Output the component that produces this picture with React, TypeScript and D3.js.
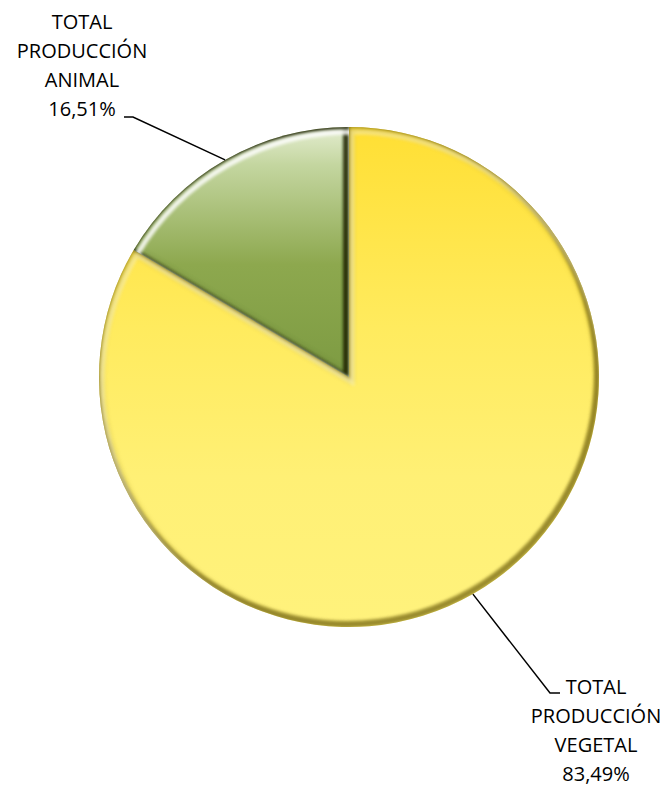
import React from "react";
import * as d3 from "d3";

const categories = ["TOTAL PRODUCCIÓN VEGETAL", "TOTAL PRODUCCIÓN ANIMAL"];
const labelLines = [
  ["TOTAL", "PRODUCCIÓN", "VEGETAL"],
  ["TOTAL", "PRODUCCIÓN", "ANIMAL"],
];
const values = [83.49, 16.51];
const percentLabels = ["83,49%", "16,51%"];

const W = 666;
const H = 788;
const cx = 349;
const cy = 377;
const R = 250;

const gradStops = [
  [
    ["0", "#FFDF34"],
    ["0.4", "#FFEB5E"],
    ["0.7", "#FFF075"],
    ["1", "#FFF27C"],
  ],
  [
    ["0", "#E4EDD0"],
    ["0.15", "#C4D6A0"],
    ["0.55", "#8DA84E"],
    ["1", "#7D9B42"],
  ],
];

// label layout
const labelLayout = [
  { tx: 596, ty: 694, ex: 550, ey: 693, endX: 560 },
  { tx: 82, ty: 29, ex: 133, ey: 117, endX: 124 },
];
const darkShift = [
  [-2, -3],
  [-3, 0],
];

export default function App() {
  const pie = d3
    .pie<number>()
    .sort(null)
    .value((d) => d);
  const arcs = pie(values);
  const arc = d3.arc<d3.PieArcDatum<number>>().innerRadius(0).outerRadius(R);
  const font = "Open Sans, sans-serif";
  const fs = 20;
  const lh = 29;

  return (
    <svg
      width={W}
      height={H}
      style={{ position: "absolute", left: 0, top: 0, background: "#fff" }}
    >
      <defs>
        {arcs.map((a, i) => (
          <React.Fragment key={i}>
            <linearGradient
              id={`g${i}`}
              gradientUnits="objectBoundingBox"
              x1="0"
              y1="0"
              x2="0"
              y2="1"
            >
              {gradStops[i].map(([o, col]) => (
                <stop key={o} offset={o} stopColor={col} />
              ))}
            </linearGradient>
            <clipPath id={`c${i}`}>
              <path d={arc(a) || ""} transform={`translate(${cx},${cy})`} />
            </clipPath>
          </React.Fragment>
        ))}
        <filter id="blur" x="-20%" y="-20%" width="140%" height="140%">
          <feGaussianBlur stdDeviation="2.5" />
        </filter>
        <filter id="blur2" x="-20%" y="-20%" width="140%" height="140%">
          <feGaussianBlur stdDeviation="1.5" />
        </filter>
      </defs>

      {arcs.map((a, i) => (
        <g key={categories[i]}>
          <path
            d={arc(a) || ""}
            transform={`translate(${cx},${cy})`}
            fill={`url(#g${i})`}
          />
          <g clipPath={`url(#c${i})`}>
            <path
              d={arc(a) || ""}
              transform={`translate(${cx},${cy})`}
              fill="none"
              stroke={i === 0 ? "#8a7a10" : "#3a4a15"}
              strokeWidth={8}
              opacity={i === 0 ? 0.35 : 0.15}
              filter="url(#blur)"
            />
            <path
              d={arc(a) || ""}
              transform={`translate(${cx + darkShift[i][0]},${cy + darkShift[i][1]})`}
              fill="none"
              stroke={i === 0 ? "#5a4c00" : "#1a2405"}
              strokeWidth={6}
              opacity={i === 0 ? 0.55 : 0.85}
              filter="url(#blur2)"
            />
            <path
              d={arc(a) || ""}
              transform={`translate(${cx + 3},${cy + 5})`}
              fill="none"
              stroke="#ffffff"
              strokeWidth={5}
              opacity={i === 0 ? 0.35 : 0.85}
              filter="url(#blur2)"
            />
          </g>
        </g>
      ))}

      {arcs.map((a, i) => {
        const mid = (a.startAngle + a.endAngle) / 2;
        const px = cx + R * Math.sin(mid);
        const py = cy - R * Math.cos(mid);
        const L = labelLayout[i];
        const lines = [...labelLines[i], percentLabels[i]];
        return (
          <g key={"l" + i}>
            <polyline
              points={`${px},${py} ${L.ex},${L.ey} ${L.endX},${L.ey}`}
              fill="none"
              stroke="#000"
              strokeWidth={1.5}
            />
            {lines.map((t, j) => (
              <text
                key={j}
                x={L.tx}
                y={L.ty + j * lh}
                textAnchor="middle"
                fontFamily={font}
                fontSize={fs}
                fill="#000"
              >
                {t}
              </text>
            ))}
          </g>
        );
      })}
    </svg>
  );
}
